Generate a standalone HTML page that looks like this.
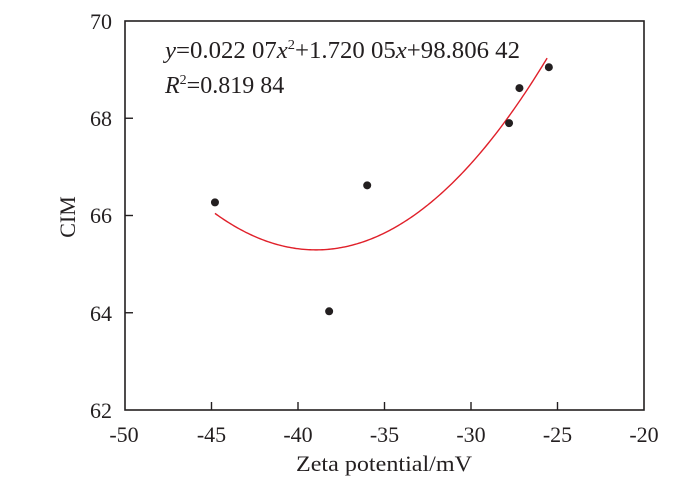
<!DOCTYPE html>
<html><head><meta charset="utf-8"><style>
html,body{margin:0;padding:0;background:#fff;}
svg{display:block;font-family:"Liberation Serif",serif;}
</style></head><body>
<svg id="s" width="675" height="485" viewBox="0 0 675 485" xmlns="http://www.w3.org/2000/svg">
<rect x="125" y="21" width="519" height="389" fill="none" stroke="#231f20" stroke-width="1.6"/>
<g stroke="#231f20" stroke-width="1.4">
<line x1="125" y1="118.25" x2="133" y2="118.25"/>
<line x1="125" y1="215.5" x2="133" y2="215.5"/>
<line x1="125" y1="312.75" x2="133" y2="312.75"/>
<line x1="211.5" y1="410" x2="211.5" y2="402"/>
<line x1="298" y1="410" x2="298" y2="402"/>
<line x1="384.5" y1="410" x2="384.5" y2="402"/>
<line x1="471" y1="410" x2="471" y2="402"/>
<line x1="557.5" y1="410" x2="557.5" y2="402"/>
</g>
<g font-size="22" fill="#231f20" text-anchor="end">
<text x="112" y="29">70</text>
<text x="112" y="126">68</text>
<text x="112" y="223">66</text>
<text x="112" y="321">64</text>
<text x="112" y="418">62</text>
</g>
<g font-size="22" fill="#231f20" text-anchor="middle">
<text x="124" y="442">-50</text>
<text x="211.5" y="442">-45</text>
<text x="298" y="442">-40</text>
<text x="384.5" y="442">-35</text>
<text x="471" y="442">-30</text>
<text x="557.5" y="442">-25</text>
<text x="644" y="442">-20</text>
<text x="384" y="471" textLength="176" lengthAdjust="spacingAndGlyphs">Zeta potential/mV</text>
</g>
<text transform="translate(75,217) rotate(-90)" font-size="22" fill="#231f20" text-anchor="middle">CIM</text>
<text x="165" y="58" font-size="24" fill="#231f20" textLength="355" lengthAdjust="spacingAndGlyphs"><tspan font-style="italic">y</tspan>=0.022 07<tspan font-style="italic">x</tspan><tspan font-size="14" dy="-9">2</tspan><tspan dy="9">+1.720 05</tspan><tspan font-style="italic">x</tspan>+98.806 42</text>
<text x="165" y="93" font-size="24" fill="#231f20"><tspan font-style="italic">R</tspan><tspan font-size="14" dy="-9">2</tspan><tspan dy="9">=0.819 84</tspan></text>
<path id="c" fill="none" stroke="#e0202a" stroke-width="1.4"/>
<g id="pts" fill="#231f20"></g>
</svg>
<script>
function X(v){return 125+(v+50)*519/30;}
function Y(v){return 410-(v-62)*389/8;}
var d="";
for(var x=-44.8;x<=-25.5001;x+=0.1){var y=0.02207*x*x+1.72005*x+98.80642;d+=(d?"L":"M")+X(x).toFixed(2)+" "+Y(y).toFixed(2);}
document.getElementById("c").setAttribute("d",d);
var p=[[-44.8,66.27],[-38.2,64.03],[-36,66.62],[-27.8,67.9],[-27.2,68.62],[-25.5,69.05]];
var g=document.getElementById("pts");
p.forEach(function(q){var c=document.createElementNS("http://www.w3.org/2000/svg","circle");c.setAttribute("cx",X(q[0]));c.setAttribute("cy",Y(q[1]));c.setAttribute("r",4);g.appendChild(c);});
</script>
</body></html>
